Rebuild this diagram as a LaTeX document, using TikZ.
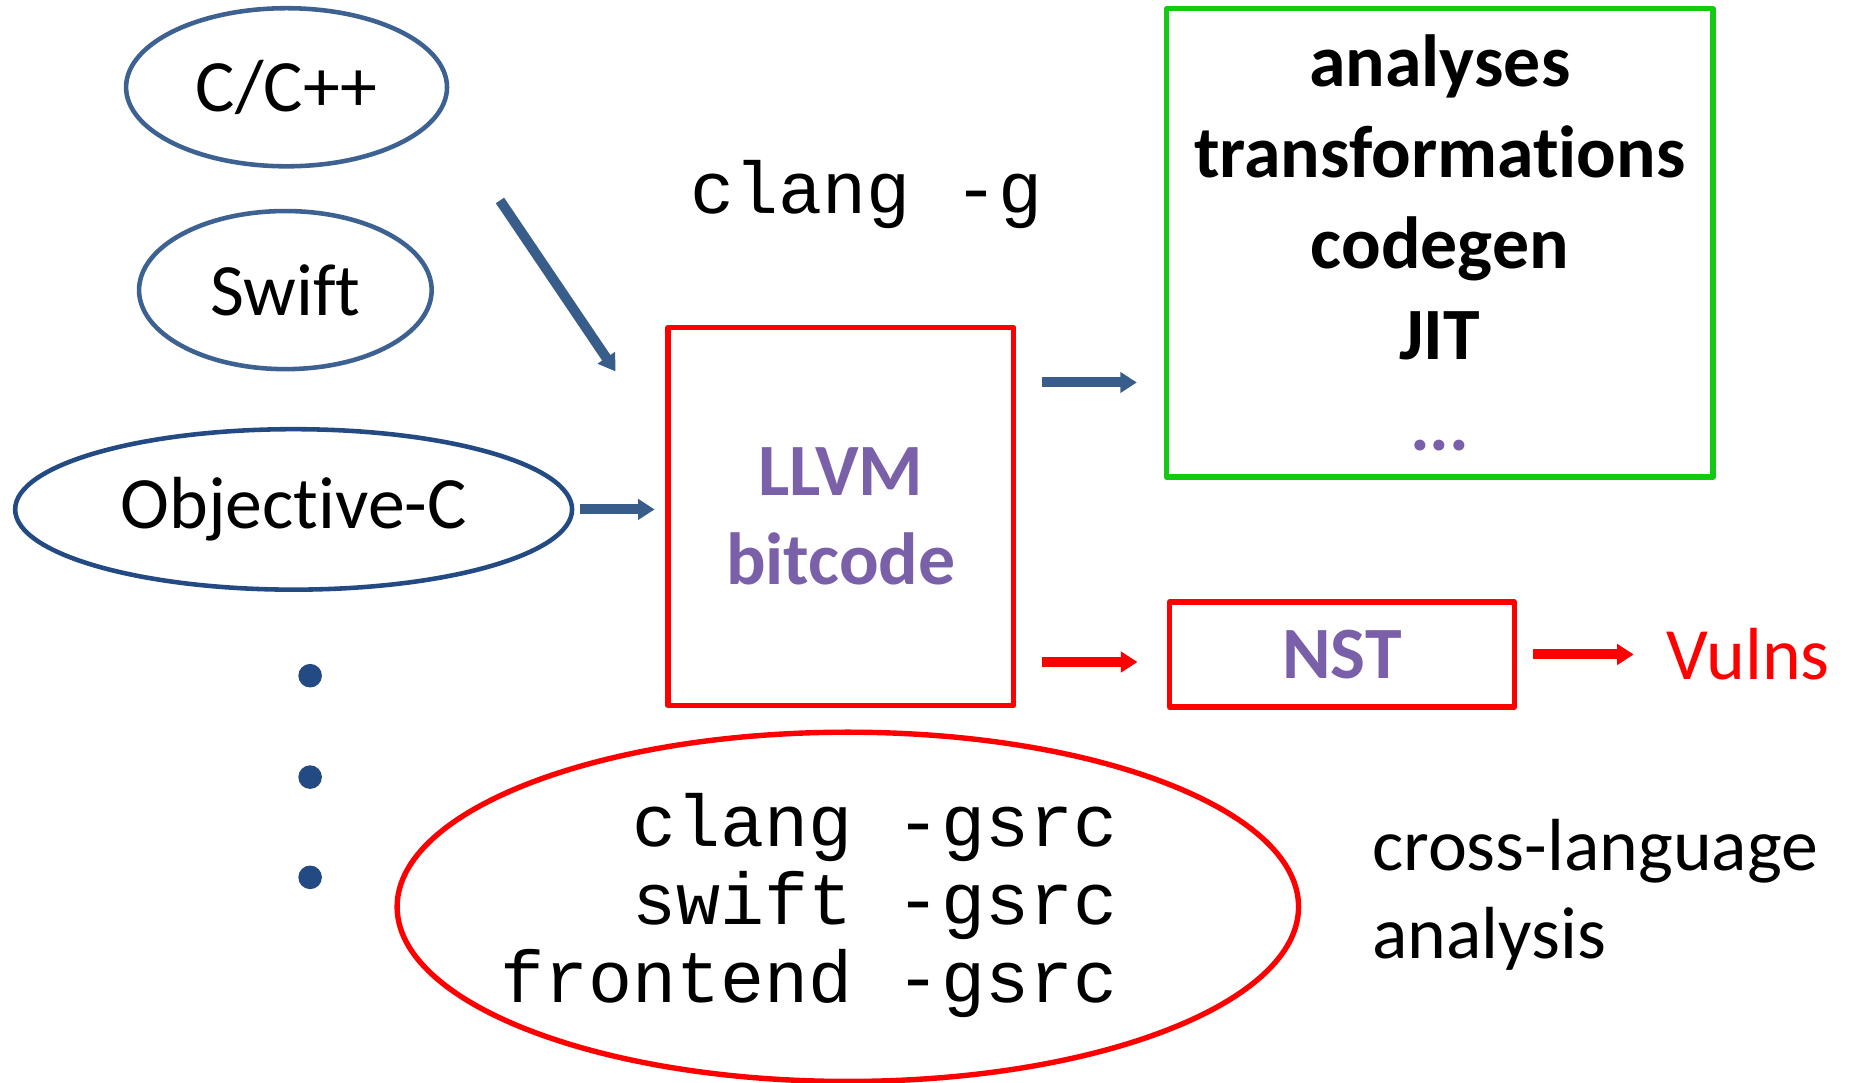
\documentclass[tikz,border=0pt]{standalone}
\usepackage{fontspec}
\setmainfont{Carlito}[Ligatures=NoCommon]
\setmonofont{Liberation Mono}
\usetikzlibrary{shapes.geometric,arrows.meta,positioning,calc}
\definecolor{langblue}{RGB}{61,98,145}
\definecolor{objblue}{RGB}{35,74,130}
\definecolor{arrblue}{RGB}{56,93,138}
\definecolor{bcpurple}{RGB}{122,96,168}
\definecolor{passgreen}{RGB}{20,200,20}
\definecolor{vulnred}{RGB}{255,0,0}
\begin{document}
\begin{tikzpicture}[x=0.01cm, y=-0.01cm, line join=round,
    >={Triangle[length=0.14cm,width=0.17cm]},
    txt/.style={font=\fontsize{17.8}{21.6}\selectfont, inner sep=0pt},
    lang/.style={txt, ellipse, draw=langblue, line width=1.1pt},
    redbox/.style={draw=vulnred, line width=1.3pt, inner sep=0pt},
    bc/.style={font=\fontsize{17.8}{21.4}\selectfont\bfseries, text=bcpurple, align=center},
    code/.style={font=\fontsize{17.7}{18.8}\selectfont\ttfamily, inner sep=0pt},
    bluearr/.style={->, draw=arrblue, line width=2.4pt},
    redarr/.style={->, draw=vulnred, line width=2.4pt}]
  \useasboundingbox (0,0) rectangle (1568,918);
  % source languages
  \node[lang, minimum width=2.72cm, minimum height=1.34cm] (cc) at (243,74) {C/C++};
  \node[lang, minimum width=2.48cm, minimum height=1.34cm] (swift) at (242,246) {Swift};
  \node[lang, draw=objblue, minimum width=4.72cm, minimum height=1.36cm] (objc) at (249,432) {Objective-C};
  \foreach \y [count=\i] in {573,659,744}
    \node[circle, fill=objblue, inner sep=0pt, minimum size=0.2cm] (dot\i) at (263,\y) {};
  % bitcode and consumers
  \node[code] (clangg) at (735,165) {clang -g};
  \node[redbox, bc, minimum width=2.93cm, minimum height=3.2cm] (llvm) at (713,438) {LLVM\\bitcode};
  \node[draw=passgreen, line width=1.3pt, txt, font=\fontsize{17.8}{21.9}\selectfont\bfseries,
    align=center, minimum width=4.63cm, minimum height=3.97cm] (pass) at (1221,206)
    {analyses\\transformations\\codegen\\JIT\\\textcolor{bcpurple}{...}};
  \node[redbox, bc, minimum width=2.92cm, minimum height=0.89cm] (nst) at (1138,555) {NST};
  \node[txt, text=vulnred, right=1.26cm of nst] (vulns) {Vulns};
  % -gsrc frontends
  \node[ellipse, draw=vulnred, line width=1.3pt, minimum width=7.64cm, minimum height=2.96cm] (srcell) at (719,769) {};
  \node[code, align=right] (srctxt) at (686,768) {clang -gsrc\\swift -gsrc\\frontend -gsrc};
  \node[txt, align=left, anchor=west, font=\fontsize{17.8}{21.3}\selectfont] (xlang) at (1163,759) {cross-language\\analysis};
  % arrows
  \coordinate (cstart) at (424,170);
  \coordinate (cend) at (522,315);
  \draw[bluearr] (cstart) -- (cend);
  \draw[bluearr, shorten <=0.05cm, shorten >=0.09cm] (objc.east) -- (objc.east -| llvm.west);
  \draw[bluearr, shorten <=0.22cm, shorten >=0.23cm] ($(llvm.north east)!0.15!(llvm.south east)$) coordinate (topout) -- (topout -| pass.west);
  \draw[redarr, shorten <=0.22cm, shorten >=0.25cm] ($(llvm.north east)!0.88!(llvm.south east)$) coordinate (lowout) -- (lowout -| nst.west);
  \draw[redarr, shorten <=0.14cm, shorten >=0.27cm] (nst.east) -- (vulns.west);
\end{tikzpicture}
\end{document}
